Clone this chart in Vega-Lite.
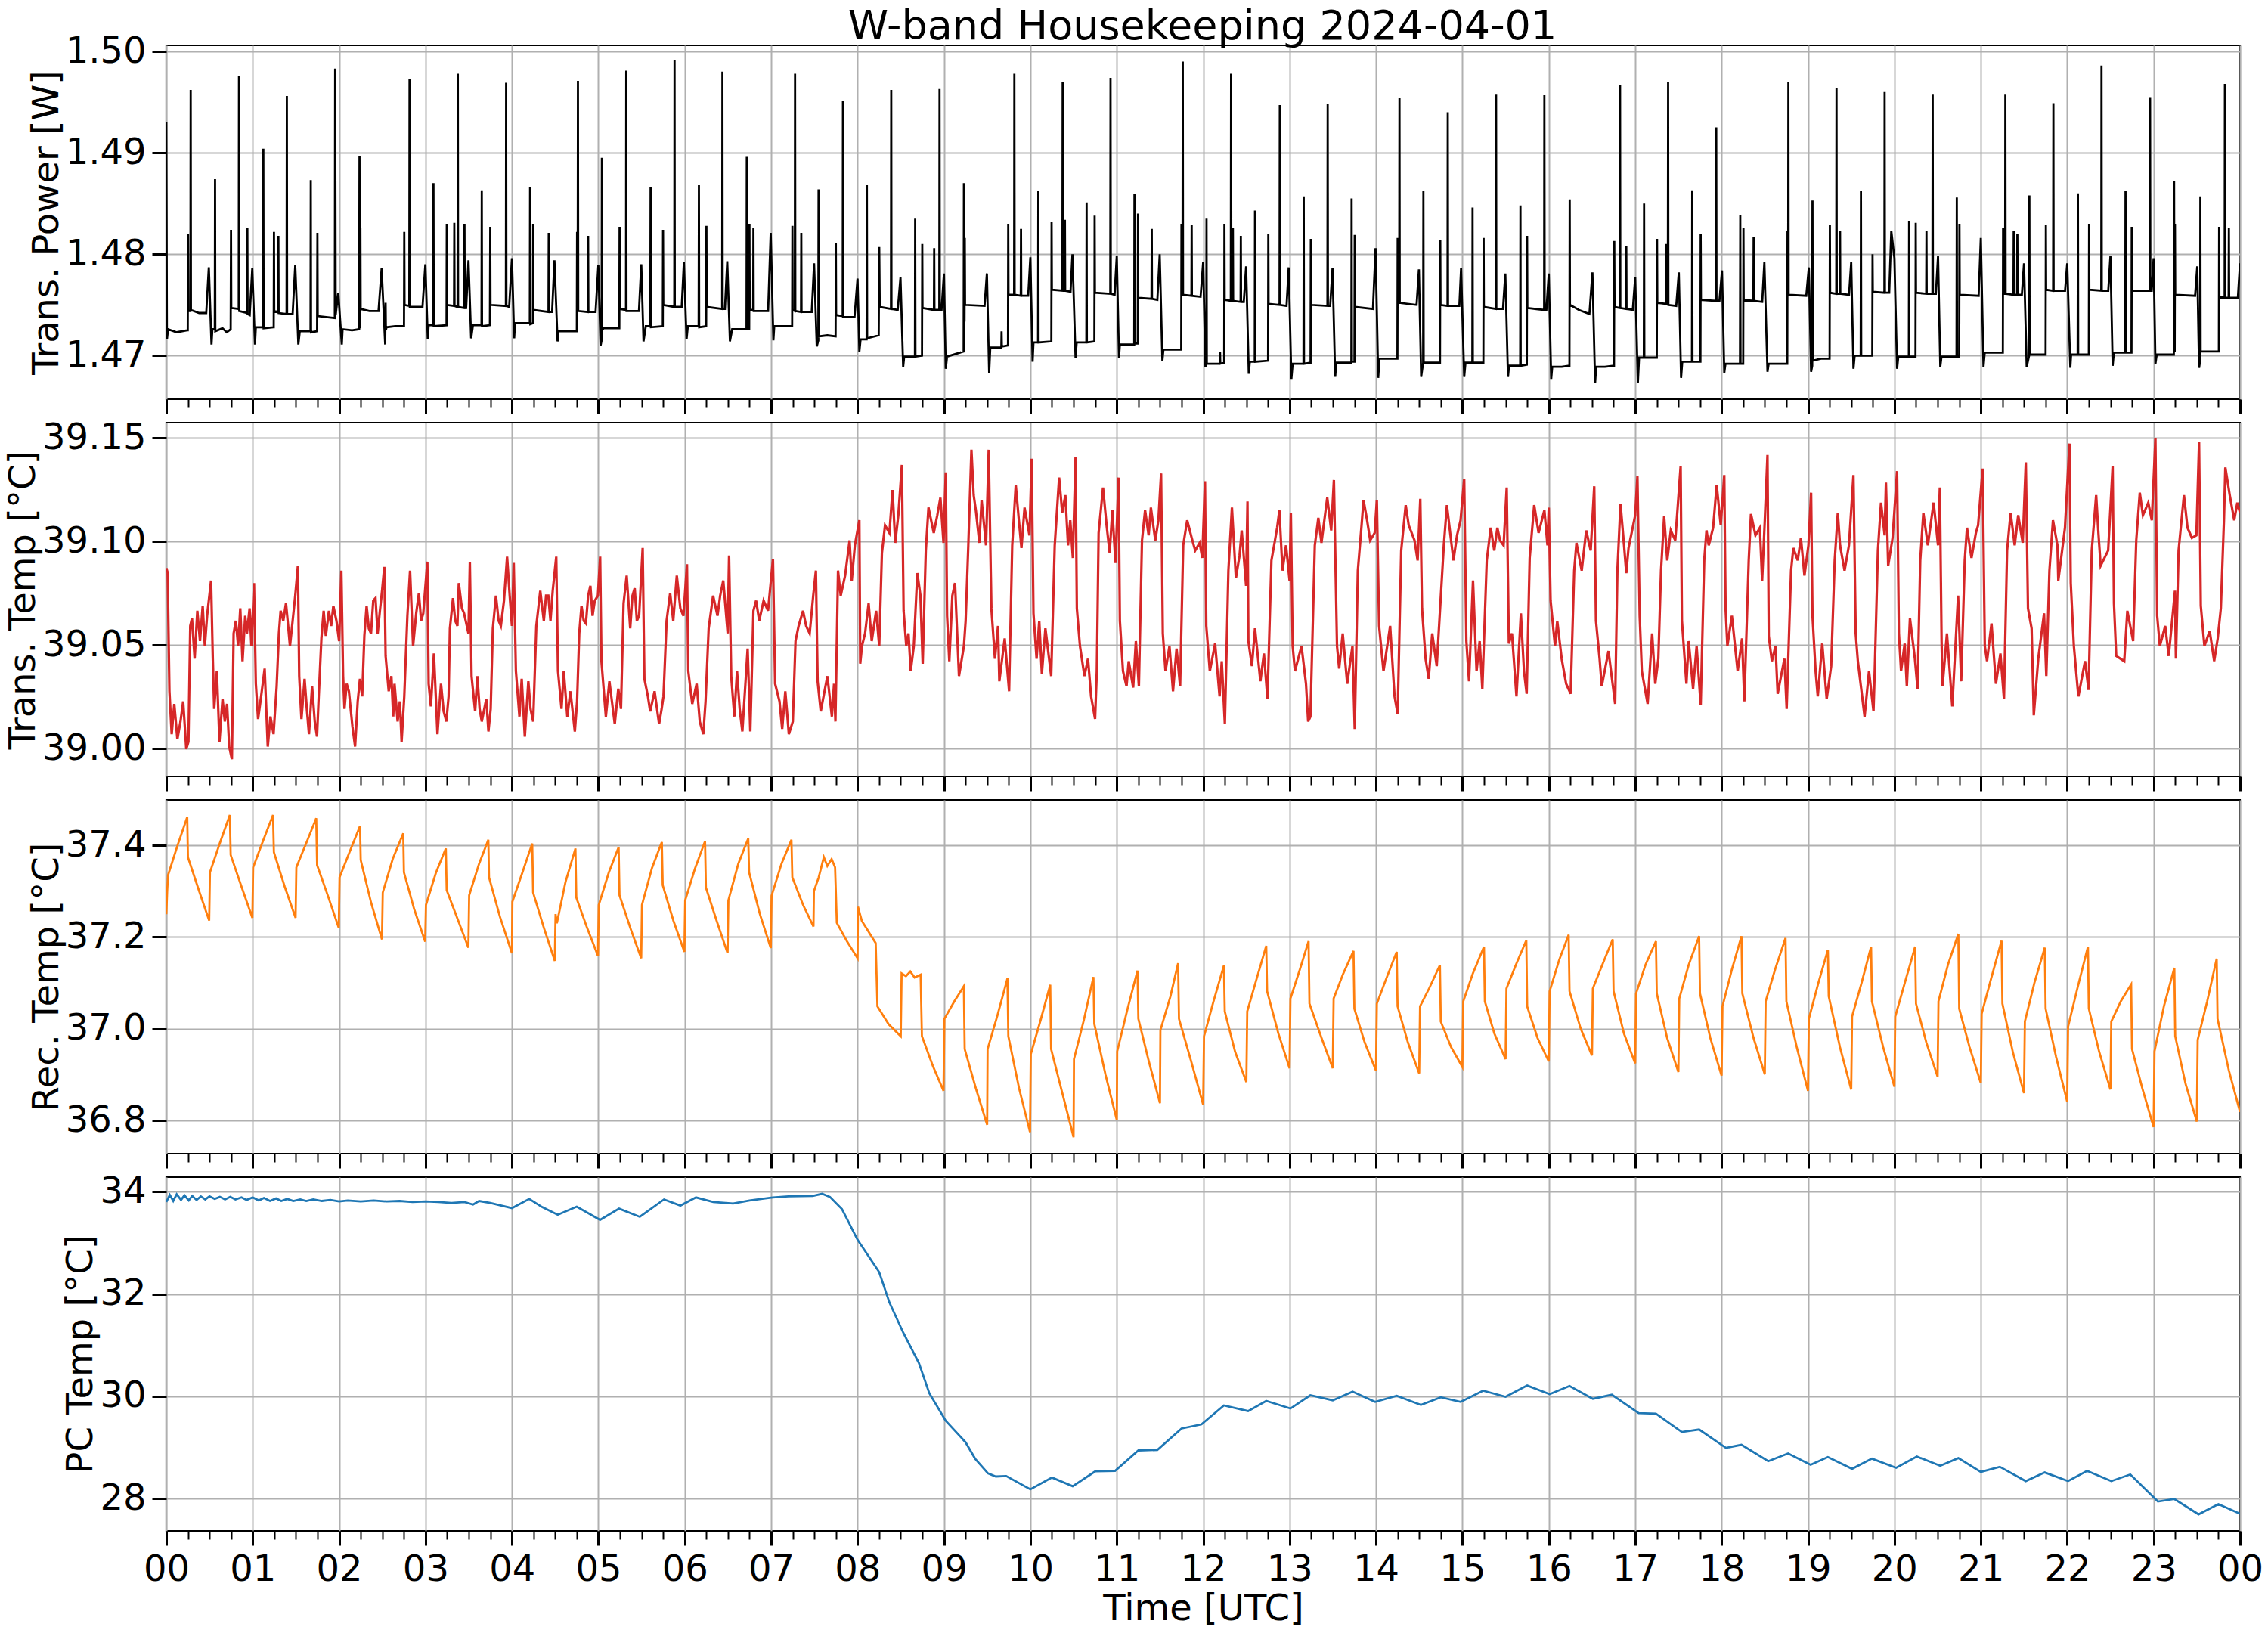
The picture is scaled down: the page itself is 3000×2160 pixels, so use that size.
{
"$schema": "https://vega.github.io/schema/vega-lite/v6.json",
"background": "white",
"padding": {"left": 6, "top": 8, "right": 10, "bottom": 5},
"title": {"text": "W-band Housekeeping 2024-04-01", "fontSize": 54, "font": "DejaVu Sans", "fontWeight": "normal", "color": "black", "anchor": "middle", "offset": -20, "dx": 90},
"config": {
"font": "DejaVu Sans",
"view": {"stroke": "black", "strokeWidth": 2.2},
"axis": {"labelFont": "DejaVu Sans", "labelFontSize": 48, "labelColor": "black", "titleFont": "DejaVu Sans", "titleFontSize": 48, "titleFontWeight": "normal", "titleColor": "black", "domain": false, "tickColor": "black", "tickWidth": 3, "tickSize": 19, "labelPadding": 8, "gridColor": "#b0b0b0", "gridWidth": 2, "gridOpacity": 1}
},
"bounds": "flush",
"spacing": 31,
"datasets": {
"p1": [
{"t":0.000,"v":1.4930},{"t":0.007,"v":1.4716},{"t":0.020,"v":1.4726},{"t":0.120,"v":1.4723},{"t":0.240,"v":1.4725},{"t":0.248,"v":1.4725},{"t":0.251,"v":1.4820},{"t":0.254,"v":1.4744},{"t":0.279,"v":1.4744},{"t":0.282,"v":1.4962},{"t":0.285,"v":1.4745},{"t":0.380,"v":1.4742},{"t":0.462,"v":1.4742},{"t":0.492,"v":1.4787},{"t":0.523,"v":1.4711},
{"t":0.533,"v":1.4726},{"t":0.561,"v":1.4726},{"t":0.564,"v":1.4874},{"t":0.567,"v":1.4724},{"t":0.650,"v":1.4727},{"t":0.700,"v":1.4723},{"t":0.745,"v":1.4726},{"t":0.749,"v":1.4824},{"t":0.752,"v":1.4747},{"t":0.838,"v":1.4746},{"t":0.841,"v":1.4976},{"t":0.844,"v":1.4744},{"t":0.935,"v":1.4742},{"t":0.938,"v":1.4826},{"t":0.941,"v":1.4741},{"t":0.965,"v":1.4740},{"t":0.995,"v":1.4786},{"t":1.026,"v":1.4711},
{"t":1.036,"v":1.4728},{"t":1.120,"v":1.4728},{"t":1.123,"v":1.4904},{"t":1.126,"v":1.4727},{"t":1.238,"v":1.4728},{"t":1.243,"v":1.4728},{"t":1.246,"v":1.4822},{"t":1.249,"v":1.4744},{"t":1.294,"v":1.4743},{"t":1.297,"v":1.4818},{"t":1.300,"v":1.4742},{"t":1.392,"v":1.4741},{"t":1.395,"v":1.4956},{"t":1.398,"v":1.4741},{"t":1.462,"v":1.4741},{"t":1.492,"v":1.4789},{"t":1.528,"v":1.4711},
{"t":1.545,"v":1.4724},{"t":1.669,"v":1.4724},{"t":1.672,"v":1.4873},{"t":1.675,"v":1.4723},{"t":1.745,"v":1.4724},{"t":1.749,"v":1.4821},{"t":1.752,"v":1.4739},{"t":1.850,"v":1.4738},{"t":1.950,"v":1.4737},{"t":1.954,"v":1.4983},{"t":1.960,"v":1.4740},{"t":1.990,"v":1.4762},{"t":2.031,"v":1.4711},
{"t":2.040,"v":1.4726},{"t":2.150,"v":1.4725},{"t":2.232,"v":1.4726},{"t":2.236,"v":1.4897},{"t":2.239,"v":1.4728},{"t":2.243,"v":1.4728},{"t":2.246,"v":1.4826},{"t":2.249,"v":1.4746},{"t":2.350,"v":1.4744},{"t":2.456,"v":1.4744},{"t":2.492,"v":1.4786},{"t":2.533,"v":1.4711},{"t":2.538,"v":1.4752},{"t":2.541,"v":1.4725},
{"t":2.549,"v":1.4728},{"t":2.650,"v":1.4729},{"t":2.751,"v":1.4729},{"t":2.754,"v":1.4822},{"t":2.757,"v":1.4750},{"t":2.812,"v":1.4749},{"t":2.815,"v":1.4973},{"t":2.818,"v":1.4748},{"t":2.965,"v":1.4748},{"t":2.998,"v":1.4790},{"t":3.026,"v":1.4716},
{"t":3.036,"v":1.4730},{"t":3.089,"v":1.4730},{"t":3.092,"v":1.4870},{"t":3.095,"v":1.4729},{"t":3.243,"v":1.4730},{"t":3.246,"v":1.4830},{"t":3.249,"v":1.4750},{"t":3.330,"v":1.4749},{"t":3.333,"v":1.4831},{"t":3.336,"v":1.4749},{"t":3.371,"v":1.4748},{"t":3.374,"v":1.4978},{"t":3.377,"v":1.4748},{"t":3.448,"v":1.4747},{"t":3.451,"v":1.4830},{"t":3.454,"v":1.4747},{"t":3.470,"v":1.4747},{"t":3.497,"v":1.4794},{"t":3.528,"v":1.4717},
{"t":3.549,"v":1.4730},{"t":3.648,"v":1.4730},{"t":3.651,"v":1.4863},{"t":3.654,"v":1.4729},{"t":3.745,"v":1.4730},{"t":3.749,"v":1.4827},{"t":3.752,"v":1.4750},{"t":3.930,"v":1.4749},{"t":3.933,"v":1.4969},{"t":3.936,"v":1.4749},{"t":3.968,"v":1.4748},{"t":4.000,"v":1.4796},{"t":4.026,"v":1.4717},
{"t":4.036,"v":1.4732},{"t":4.207,"v":1.4732},{"t":4.210,"v":1.4866},{"t":4.213,"v":1.4731},{"t":4.243,"v":1.4732},{"t":4.246,"v":1.4830},{"t":4.249,"v":1.4745},{"t":4.423,"v":1.4743},{"t":4.426,"v":1.4821},{"t":4.429,"v":1.4743},{"t":4.465,"v":1.4743},{"t":4.492,"v":1.4794},{"t":4.528,"v":1.4714},
{"t":4.538,"v":1.4724},{"t":4.650,"v":1.4724},{"t":4.751,"v":1.4724},{"t":4.754,"v":1.4822},{"t":4.757,"v":1.4745},{"t":4.761,"v":1.4745},{"t":4.764,"v":1.4971},{"t":4.767,"v":1.4744},{"t":4.879,"v":1.4743},{"t":4.882,"v":1.4818},{"t":4.885,"v":1.4743},{"t":4.968,"v":1.4743},{"t":5.000,"v":1.4789},{"t":5.026,"v":1.4710},{"t":5.038,"v":1.4715},{"t":5.041,"v":1.4895},{"t":5.044,"v":1.4725},
{"t":5.060,"v":1.4727},{"t":5.150,"v":1.4727},{"t":5.243,"v":1.4727},{"t":5.246,"v":1.4827},{"t":5.249,"v":1.4746},{"t":5.320,"v":1.4745},{"t":5.323,"v":1.4981},{"t":5.326,"v":1.4744},{"t":5.470,"v":1.4744},{"t":5.497,"v":1.4790},{"t":5.523,"v":1.4714},
{"t":5.549,"v":1.4729},{"t":5.602,"v":1.4729},{"t":5.605,"v":1.4866},{"t":5.608,"v":1.4728},{"t":5.746,"v":1.4729},{"t":5.749,"v":1.4824},{"t":5.752,"v":1.4750},{"t":5.879,"v":1.4748},{"t":5.882,"v":1.4991},{"t":5.885,"v":1.4748},{"t":5.965,"v":1.4748},{"t":5.990,"v":1.4792},{"t":6.021,"v":1.4716},
{"t":6.036,"v":1.4729},{"t":6.161,"v":1.4729},{"t":6.164,"v":1.4868},{"t":6.167,"v":1.4728},{"t":6.248,"v":1.4729},{"t":6.251,"v":1.4828},{"t":6.254,"v":1.4748},{"t":6.433,"v":1.4746},{"t":6.436,"v":1.4980},{"t":6.439,"v":1.4746},{"t":6.465,"v":1.4746},{"t":6.492,"v":1.4793},{"t":6.523,"v":1.4714},
{"t":6.549,"v":1.4726},{"t":6.715,"v":1.4726},{"t":6.718,"v":1.4896},{"t":6.721,"v":1.4726},{"t":6.746,"v":1.4726},{"t":6.749,"v":1.4830},{"t":6.752,"v":1.4745},{"t":6.792,"v":1.4745},{"t":6.795,"v":1.4826},{"t":6.798,"v":1.4744},{"t":6.965,"v":1.4744},{"t":6.995,"v":1.4821},{"t":7.026,"v":1.4715},
{"t":7.036,"v":1.4729},{"t":7.150,"v":1.4729},{"t":7.243,"v":1.4729},{"t":7.246,"v":1.4828},{"t":7.249,"v":1.4745},{"t":7.274,"v":1.4744},{"t":7.277,"v":1.4978},{"t":7.280,"v":1.4744},{"t":7.346,"v":1.4743},{"t":7.349,"v":1.4821},{"t":7.352,"v":1.4743},{"t":7.470,"v":1.4743},{"t":7.497,"v":1.4791},{"t":7.528,"v":1.4709},
{"t":7.546,"v":1.4715},{"t":7.549,"v":1.4864},{"t":7.552,"v":1.4719},{"t":7.650,"v":1.4720},{"t":7.746,"v":1.4719},{"t":7.749,"v":1.4811},{"t":7.752,"v":1.4740},{"t":7.828,"v":1.4739},{"t":7.831,"v":1.4951},{"t":7.834,"v":1.4738},{"t":7.965,"v":1.4738},{"t":8.000,"v":1.4776},{"t":8.021,"v":1.4704},
{"t":8.035,"v":1.4716},{"t":8.105,"v":1.4716},{"t":8.108,"v":1.4868},{"t":8.111,"v":1.4717},{"t":8.245,"v":1.4720},{"t":8.251,"v":1.4807},{"t":8.257,"v":1.4748},{"t":8.387,"v":1.4746},{"t":8.390,"v":1.4962},{"t":8.393,"v":1.4746},{"t":8.465,"v":1.4745},{"t":8.497,"v":1.4777},{"t":8.528,"v":1.4689},
{"t":8.540,"v":1.4699},{"t":8.664,"v":1.4699},{"t":8.667,"v":1.4835},{"t":8.670,"v":1.4699},{"t":8.746,"v":1.4700},{"t":8.749,"v":1.4810},{"t":8.752,"v":1.4747},{"t":8.884,"v":1.4745},{"t":8.887,"v":1.4806},{"t":8.890,"v":1.4745},{"t":8.946,"v":1.4745},{"t":8.949,"v":1.4963},{"t":8.952,"v":1.4745},{"t":8.972,"v":1.4745},{"t":9.000,"v":1.4781},{"t":9.021,"v":1.4687},
{"t":9.036,"v":1.4699},{"t":9.150,"v":1.4702},{"t":9.228,"v":1.4704},{"t":9.231,"v":1.4870},{"t":9.234,"v":1.4730},{"t":9.238,"v":1.4735},{"t":9.241,"v":1.4816},{"t":9.244,"v":1.4750},{"t":9.470,"v":1.4749},{"t":9.497,"v":1.4781},{"t":9.523,"v":1.4683},
{"t":9.536,"v":1.4708},{"t":9.664,"v":1.4708},{"t":9.667,"v":1.4724},{"t":9.670,"v":1.4709},{"t":9.741,"v":1.4710},{"t":9.744,"v":1.4830},{"t":9.747,"v":1.4760},{"t":9.812,"v":1.4760},{"t":9.815,"v":1.4978},{"t":9.818,"v":1.4760},{"t":9.889,"v":1.4759},{"t":9.892,"v":1.4825},{"t":9.895,"v":1.4759},{"t":9.975,"v":1.4759},{"t":10.000,"v":1.4797},{"t":10.026,"v":1.4694},
{"t":10.036,"v":1.4713},{"t":10.089,"v":1.4713},{"t":10.092,"v":1.4862},{"t":10.095,"v":1.4713},{"t":10.243,"v":1.4714},{"t":10.246,"v":1.4832},{"t":10.249,"v":1.4765},{"t":10.371,"v":1.4764},{"t":10.374,"v":1.4970},{"t":10.377,"v":1.4764},{"t":10.397,"v":1.4764},{"t":10.400,"v":1.4834},{"t":10.403,"v":1.4764},{"t":10.465,"v":1.4763},{"t":10.487,"v":1.4800},{"t":10.523,"v":1.4698},
{"t":10.536,"v":1.4713},{"t":10.648,"v":1.4713},{"t":10.651,"v":1.4851},{"t":10.654,"v":1.4713},{"t":10.741,"v":1.4714},{"t":10.744,"v":1.4838},{"t":10.747,"v":1.4762},{"t":10.925,"v":1.4761},{"t":10.928,"v":1.4974},{"t":10.931,"v":1.4761},{"t":10.975,"v":1.4760},{"t":11.000,"v":1.4798},{"t":11.026,"v":1.4698},
{"t":11.036,"v":1.4711},{"t":11.202,"v":1.4711},{"t":11.205,"v":1.4859},{"t":11.208,"v":1.4712},{"t":11.243,"v":1.4712},{"t":11.246,"v":1.4840},{"t":11.249,"v":1.4757},{"t":11.402,"v":1.4756},{"t":11.405,"v":1.4825},{"t":11.408,"v":1.4756},{"t":11.470,"v":1.4755},{"t":11.497,"v":1.4800},{"t":11.528,"v":1.4695},
{"t":11.540,"v":1.4706},{"t":11.650,"v":1.4706},{"t":11.746,"v":1.4706},{"t":11.749,"v":1.4830},{"t":11.752,"v":1.4760},{"t":11.761,"v":1.4760},{"t":11.764,"v":1.4990},{"t":11.767,"v":1.4760},{"t":11.864,"v":1.4759},{"t":11.867,"v":1.4829},{"t":11.870,"v":1.4759},{"t":11.970,"v":1.4758},{"t":12.000,"v":1.4792},{"t":12.026,"v":1.4689},
{"t":12.036,"v":1.4692},{"t":12.039,"v":1.4835},{"t":12.042,"v":1.4692},{"t":12.192,"v":1.4692},{"t":12.195,"v":1.4704},{"t":12.198,"v":1.4692},{"t":12.243,"v":1.4693},{"t":12.246,"v":1.4830},{"t":12.249,"v":1.4755},{"t":12.320,"v":1.4754},{"t":12.323,"v":1.4978},{"t":12.326,"v":1.4754},{"t":12.341,"v":1.4754},{"t":12.344,"v":1.4826},{"t":12.347,"v":1.4754},{"t":12.433,"v":1.4753},{"t":12.436,"v":1.4818},{"t":12.439,"v":1.4753},{"t":12.470,"v":1.4753},{"t":12.497,"v":1.4788},{"t":12.528,"v":1.4682},
{"t":12.540,"v":1.4694},{"t":12.597,"v":1.4694},{"t":12.600,"v":1.4843},{"t":12.603,"v":1.4694},{"t":12.751,"v":1.4695},{"t":12.754,"v":1.4820},{"t":12.757,"v":1.4751},{"t":12.884,"v":1.4750},{"t":12.887,"v":1.4947},{"t":12.890,"v":1.4750},{"t":12.965,"v":1.4749},{"t":12.990,"v":1.4787},{"t":13.021,"v":1.4677},
{"t":13.036,"v":1.4692},{"t":13.161,"v":1.4692},{"t":13.164,"v":1.4857},{"t":13.167,"v":1.4692},{"t":13.243,"v":1.4693},{"t":13.246,"v":1.4815},{"t":13.249,"v":1.4750},{"t":13.438,"v":1.4749},{"t":13.441,"v":1.4948},{"t":13.444,"v":1.4749},{"t":13.470,"v":1.4749},{"t":13.497,"v":1.4786},{"t":13.528,"v":1.4679},
{"t":13.540,"v":1.4693},{"t":13.715,"v":1.4693},{"t":13.718,"v":1.4855},{"t":13.721,"v":1.4694},{"t":13.751,"v":1.4694},{"t":13.754,"v":1.4819},{"t":13.757,"v":1.4748},{"t":13.965,"v":1.4746},{"t":13.995,"v":1.4806},{"t":14.026,"v":1.4678},
{"t":14.040,"v":1.4697},{"t":14.150,"v":1.4697},{"t":14.248,"v":1.4697},{"t":14.251,"v":1.4816},{"t":14.254,"v":1.4752},{"t":14.269,"v":1.4752},{"t":14.272,"v":1.4954},{"t":14.275,"v":1.4752},{"t":14.470,"v":1.4750},{"t":14.497,"v":1.4785},{"t":14.523,"v":1.4679},
{"t":14.546,"v":1.4693},{"t":14.549,"v":1.4862},{"t":14.552,"v":1.4693},{"t":14.650,"v":1.4693},{"t":14.741,"v":1.4693},{"t":14.744,"v":1.4814},{"t":14.747,"v":1.4750},{"t":14.828,"v":1.4749},{"t":14.831,"v":1.4940},{"t":14.834,"v":1.4749},{"t":14.965,"v":1.4749},{"t":14.985,"v":1.4786},{"t":15.021,"v":1.4679},
{"t":15.036,"v":1.4693},{"t":15.115,"v":1.4693},{"t":15.118,"v":1.4846},{"t":15.121,"v":1.4693},{"t":15.243,"v":1.4693},{"t":15.246,"v":1.4816},{"t":15.249,"v":1.4748},{"t":15.387,"v":1.4746},{"t":15.390,"v":1.4958},{"t":15.393,"v":1.4746},{"t":15.470,"v":1.4746},{"t":15.497,"v":1.4781},{"t":15.528,"v":1.4679},
{"t":15.540,"v":1.4690},{"t":15.669,"v":1.4690},{"t":15.672,"v":1.4848},{"t":15.675,"v":1.4690},{"t":15.746,"v":1.4691},{"t":15.749,"v":1.4818},{"t":15.752,"v":1.4747},{"t":15.946,"v":1.4745},{"t":15.949,"v":1.4957},{"t":15.952,"v":1.4745},{"t":15.972,"v":1.4745},{"t":16.000,"v":1.4781},{"t":16.028,"v":1.4677},
{"t":16.040,"v":1.4689},{"t":16.150,"v":1.4689},{"t":16.239,"v":1.4690},{"t":16.242,"v":1.4854},{"t":16.245,"v":1.4750},{"t":16.350,"v":1.4745},{"t":16.470,"v":1.4741},{"t":16.505,"v":1.4782},{"t":16.536,"v":1.4673},
{"t":16.548,"v":1.4689},{"t":16.650,"v":1.4689},{"t":16.755,"v":1.4690},{"t":16.758,"v":1.4813},{"t":16.761,"v":1.4748},{"t":16.822,"v":1.4747},{"t":16.825,"v":1.4967},{"t":16.828,"v":1.4747},{"t":16.894,"v":1.4746},{"t":16.897,"v":1.4808},{"t":16.900,"v":1.4746},{"t":16.972,"v":1.4745},{"t":17.000,"v":1.4777},{"t":17.031,"v":1.4673},
{"t":17.045,"v":1.4698},{"t":17.100,"v":1.4698},{"t":17.103,"v":1.4850},{"t":17.106,"v":1.4698},{"t":17.250,"v":1.4698},{"t":17.253,"v":1.4815},{"t":17.256,"v":1.4752},{"t":17.358,"v":1.4751},{"t":17.361,"v":1.4810},{"t":17.364,"v":1.4751},{"t":17.378,"v":1.4751},{"t":17.381,"v":1.4970},{"t":17.384,"v":1.4750},{"t":17.475,"v":1.4749},{"t":17.505,"v":1.4782},{"t":17.531,"v":1.4678},
{"t":17.545,"v":1.4694},{"t":17.657,"v":1.4694},{"t":17.660,"v":1.4863},{"t":17.663,"v":1.4694},{"t":17.755,"v":1.4694},{"t":17.758,"v":1.4820},{"t":17.761,"v":1.4755},{"t":17.935,"v":1.4754},{"t":17.938,"v":1.4925},{"t":17.941,"v":1.4754},{"t":17.975,"v":1.4754},{"t":18.005,"v":1.4784},{"t":18.031,"v":1.4683},
{"t":18.045,"v":1.4692},{"t":18.213,"v":1.4692},{"t":18.216,"v":1.4839},{"t":18.219,"v":1.4692},{"t":18.250,"v":1.4692},{"t":18.253,"v":1.4826},{"t":18.256,"v":1.4755},{"t":18.368,"v":1.4754},{"t":18.371,"v":1.4817},{"t":18.374,"v":1.4754},{"t":18.470,"v":1.4753},{"t":18.495,"v":1.4792},{"t":18.531,"v":1.4684},
{"t":18.545,"v":1.4692},{"t":18.650,"v":1.4692},{"t":18.760,"v":1.4692},{"t":18.763,"v":1.4823},{"t":18.766,"v":1.4760},{"t":18.770,"v":1.4760},{"t":18.773,"v":1.4970},{"t":18.776,"v":1.4760},{"t":18.980,"v":1.4759},{"t":19.010,"v":1.4787},{"t":19.036,"v":1.4684},
{"t":19.049,"v":1.4690},{"t":19.052,"v":1.4853},{"t":19.055,"v":1.4695},{"t":19.150,"v":1.4697},{"t":19.250,"v":1.4697},{"t":19.253,"v":1.4829},{"t":19.256,"v":1.4762},{"t":19.327,"v":1.4761},{"t":19.330,"v":1.4964},{"t":19.333,"v":1.4761},{"t":19.368,"v":1.4761},{"t":19.371,"v":1.4823},{"t":19.374,"v":1.4761},{"t":19.475,"v":1.4760},{"t":19.500,"v":1.4792},{"t":19.526,"v":1.4687},
{"t":19.540,"v":1.4700},{"t":19.610,"v":1.4700},{"t":19.613,"v":1.4862},{"t":19.616,"v":1.4700},{"t":19.744,"v":1.4700},{"t":19.747,"v":1.4800},{"t":19.750,"v":1.4763},{"t":19.884,"v":1.4762},{"t":19.887,"v":1.4960},{"t":19.890,"v":1.4762},{"t":19.940,"v":1.4762},{"t":19.964,"v":1.4823},{"t":20.000,"v":1.4796},{"t":20.031,"v":1.4687},
{"t":20.045,"v":1.4699},{"t":20.167,"v":1.4699},{"t":20.170,"v":1.4833},{"t":20.173,"v":1.4699},{"t":20.244,"v":1.4699},{"t":20.247,"v":1.4831},{"t":20.250,"v":1.4762},{"t":20.368,"v":1.4761},{"t":20.371,"v":1.4823},{"t":20.374,"v":1.4761},{"t":20.440,"v":1.4761},{"t":20.443,"v":1.4958},{"t":20.446,"v":1.4761},{"t":20.480,"v":1.4761},{"t":20.505,"v":1.4798},{"t":20.531,"v":1.4689},
{"t":20.545,"v":1.4699},{"t":20.650,"v":1.4699},{"t":20.719,"v":1.4699},{"t":20.722,"v":1.4856},{"t":20.725,"v":1.4699},{"t":20.750,"v":1.4699},{"t":20.753,"v":1.4830},{"t":20.756,"v":1.4760},{"t":20.975,"v":1.4759},{"t":21.000,"v":1.4816},{"t":21.031,"v":1.4689},
{"t":21.045,"v":1.4703},{"t":21.150,"v":1.4703},{"t":21.255,"v":1.4703},{"t":21.258,"v":1.4826},{"t":21.261,"v":1.4761},{"t":21.281,"v":1.4761},{"t":21.284,"v":1.4958},{"t":21.287,"v":1.4761},{"t":21.378,"v":1.4760},{"t":21.381,"v":1.4823},{"t":21.384,"v":1.4760},{"t":21.420,"v":1.4760},{"t":21.423,"v":1.4820},{"t":21.426,"v":1.4760},{"t":21.475,"v":1.4760},{"t":21.500,"v":1.4791},{"t":21.531,"v":1.4689},
{"t":21.559,"v":1.4700},{"t":21.562,"v":1.4858},{"t":21.565,"v":1.4701},{"t":21.650,"v":1.4701},{"t":21.750,"v":1.4701},{"t":21.753,"v":1.4829},{"t":21.756,"v":1.4765},{"t":21.837,"v":1.4764},{"t":21.840,"v":1.4949},{"t":21.843,"v":1.4764},{"t":21.975,"v":1.4764},{"t":22.000,"v":1.4791},{"t":22.036,"v":1.4688},
{"t":22.045,"v":1.4701},{"t":22.121,"v":1.4701},{"t":22.124,"v":1.4860},{"t":22.127,"v":1.4701},{"t":22.250,"v":1.4701},{"t":22.253,"v":1.4830},{"t":22.256,"v":1.4765},{"t":22.394,"v":1.4764},{"t":22.397,"v":1.4986},{"t":22.400,"v":1.4764},{"t":22.475,"v":1.4764},{"t":22.500,"v":1.4798},{"t":22.526,"v":1.4690},
{"t":22.540,"v":1.4703},{"t":22.672,"v":1.4703},{"t":22.675,"v":1.4862},{"t":22.678,"v":1.4703},{"t":22.744,"v":1.4703},{"t":22.747,"v":1.4827},{"t":22.750,"v":1.4764},{"t":22.956,"v":1.4764},{"t":22.959,"v":1.4955},{"t":22.962,"v":1.4764},{"t":22.978,"v":1.4764},{"t":23.000,"v":1.4796},{"t":23.021,"v":1.4692},
{"t":23.036,"v":1.4701},{"t":23.150,"v":1.4701},{"t":23.234,"v":1.4701},{"t":23.237,"v":1.4872},{"t":23.240,"v":1.4705},{"t":23.244,"v":1.4705},{"t":23.247,"v":1.4830},{"t":23.250,"v":1.4760},{"t":23.480,"v":1.4759},{"t":23.505,"v":1.4788},{"t":23.526,"v":1.4688},
{"t":23.538,"v":1.4695},{"t":23.541,"v":1.4857},{"t":23.544,"v":1.4704},{"t":23.650,"v":1.4704},{"t":23.755,"v":1.4704},{"t":23.758,"v":1.4827},{"t":23.761,"v":1.4758},{"t":23.822,"v":1.4757},{"t":23.825,"v":1.4968},{"t":23.828,"v":1.4757},{"t":23.868,"v":1.4757},{"t":23.871,"v":1.4826},{"t":23.874,"v":1.4757},{"t":23.975,"v":1.4757},{"t":24.000,"v":1.4791}
],
"p2": [
{"t":0.000,"v":39.0871},{"t":0.015,"v":39.0850},{"t":0.036,"v":39.0277},{"t":0.062,"v":39.0070},{"t":0.092,"v":39.0216},{"t":0.128,"v":39.0046},{"t":0.164,"v":39.0131},{"t":0.195,"v":39.0228},{"t":0.231,"v":38.9998},{"t":0.256,"v":39.0034},
{"t":0.277,"v":39.0592},{"t":0.297,"v":39.0629},{"t":0.328,"v":39.0434},{"t":0.359,"v":39.0665},{"t":0.390,"v":39.0519},{"t":0.421,"v":39.0689},{"t":0.446,"v":39.0495},{"t":0.472,"v":39.0641},{"t":0.518,"v":39.0811},
{"t":0.538,"v":39.0434},{"t":0.554,"v":39.0192},{"t":0.585,"v":39.0374},{"t":0.615,"v":39.0034},{"t":0.651,"v":39.0240},{"t":0.677,"v":39.0131},{"t":0.703,"v":39.0216},{"t":0.728,"v":39.0010},{"t":0.759,"v":38.9949},
{"t":0.779,"v":39.0556},{"t":0.805,"v":39.0617},{"t":0.831,"v":39.0495},{"t":0.856,"v":39.0677},{"t":0.882,"v":39.0422},{"t":0.913,"v":39.0641},{"t":0.933,"v":39.0556},{"t":0.964,"v":39.0677},{"t":0.985,"v":39.0495},{"t":1.015,"v":39.0799},
{"t":1.036,"v":39.0313},{"t":1.062,"v":39.0143},{"t":1.097,"v":39.0252},{"t":1.138,"v":39.0386},{"t":1.174,"v":39.0010},{"t":1.205,"v":39.0155},{"t":1.241,"v":39.0070},{"t":1.277,"v":39.0301},
{"t":1.303,"v":39.0556},{"t":1.323,"v":39.0665},{"t":1.354,"v":39.0617},{"t":1.385,"v":39.0701},{"t":1.410,"v":39.0592},{"t":1.431,"v":39.0495},{"t":1.462,"v":39.0617},{"t":1.492,"v":39.0738},{"t":1.523,"v":39.0883},
{"t":1.538,"v":39.0350},{"t":1.564,"v":39.0143},{"t":1.600,"v":39.0337},{"t":1.626,"v":39.0192},{"t":1.651,"v":39.0070},{"t":1.687,"v":39.0301},{"t":1.718,"v":39.0131},{"t":1.744,"v":39.0058},{"t":1.764,"v":39.0252},
{"t":1.795,"v":39.0532},{"t":1.821,"v":39.0665},{"t":1.846,"v":39.0544},{"t":1.882,"v":39.0665},{"t":1.908,"v":39.0592},{"t":1.933,"v":39.0689},{"t":1.969,"v":39.0617},{"t":2.000,"v":39.0519},{"t":2.026,"v":39.0859},
{"t":2.046,"v":39.0350},{"t":2.062,"v":39.0192},{"t":2.087,"v":39.0313},{"t":2.113,"v":39.0277},{"t":2.154,"v":39.0107},{"t":2.185,"v":39.0010},{"t":2.215,"v":39.0228},{"t":2.241,"v":39.0337},{"t":2.267,"v":39.0252},
{"t":2.292,"v":39.0544},{"t":2.318,"v":39.0689},{"t":2.344,"v":39.0580},{"t":2.369,"v":39.0556},{"t":2.395,"v":39.0714},{"t":2.421,"v":39.0726},{"t":2.446,"v":39.0556},{"t":2.472,"v":39.0665},{"t":2.497,"v":39.0762},{"t":2.523,"v":39.0877},
{"t":2.538,"v":39.0447},{"t":2.574,"v":39.0277},{"t":2.605,"v":39.0350},{"t":2.626,"v":39.0155},{"t":2.641,"v":39.0313},{"t":2.677,"v":39.0131},{"t":2.703,"v":39.0228},{"t":2.723,"v":39.0034},{"t":2.754,"v":39.0252},
{"t":2.790,"v":39.0641},{"t":2.821,"v":39.0859},{"t":2.856,"v":39.0495},{"t":2.892,"v":39.0653},{"t":2.923,"v":39.0750},{"t":2.949,"v":39.0617},{"t":2.974,"v":39.0653},{"t":3.021,"v":39.0902},
{"t":3.036,"v":39.0313},{"t":3.062,"v":39.0204},{"t":3.097,"v":39.0459},{"t":3.138,"v":39.0070},{"t":3.179,"v":39.0313},{"t":3.210,"v":39.0180},{"t":3.241,"v":39.0131},{"t":3.267,"v":39.0252},
{"t":3.282,"v":39.0580},{"t":3.318,"v":39.0726},{"t":3.344,"v":39.0617},{"t":3.369,"v":39.0592},{"t":3.385,"v":39.0799},{"t":3.421,"v":39.0677},{"t":3.446,"v":39.0653},{"t":3.497,"v":39.0556},{"t":3.513,"v":39.0902},
{"t":3.533,"v":39.0350},{"t":3.574,"v":39.0180},{"t":3.600,"v":39.0350},{"t":3.626,"v":39.0192},{"t":3.651,"v":39.0131},{"t":3.703,"v":39.0240},{"t":3.728,"v":39.0083},{"t":3.754,"v":39.0192},
{"t":3.779,"v":39.0580},{"t":3.815,"v":39.0738},{"t":3.846,"v":39.0617},{"t":3.872,"v":39.0592},{"t":3.908,"v":39.0714},{"t":3.944,"v":39.0926},{"t":3.974,"v":39.0738},{"t":4.000,"v":39.0592},{"t":4.021,"v":39.0896},
{"t":4.046,"v":39.0374},{"t":4.087,"v":39.0155},{"t":4.113,"v":39.0337},{"t":4.149,"v":39.0058},{"t":4.190,"v":39.0325},{"t":4.215,"v":39.0192},{"t":4.246,"v":39.0131},
{"t":4.282,"v":39.0592},{"t":4.328,"v":39.0762},{"t":4.369,"v":39.0617},{"t":4.395,"v":39.0738},{"t":4.421,"v":39.0738},{"t":4.446,"v":39.0617},{"t":4.472,"v":39.0762},{"t":4.513,"v":39.0926},
{"t":4.533,"v":39.0374},{"t":4.574,"v":39.0192},{"t":4.600,"v":39.0374},{"t":4.641,"v":39.0155},{"t":4.677,"v":39.0277},{"t":4.728,"v":39.0083},{"t":4.754,"v":39.0228},
{"t":4.779,"v":39.0556},{"t":4.805,"v":39.0689},{"t":4.831,"v":39.0617},{"t":4.856,"v":39.0604},{"t":4.882,"v":39.0738},{"t":4.908,"v":39.0786},{"t":4.933,"v":39.0641},{"t":4.959,"v":39.0714},{"t":4.995,"v":39.0738},{"t":5.021,"v":39.0926},
{"t":5.036,"v":39.0422},{"t":5.087,"v":39.0155},{"t":5.128,"v":39.0325},{"t":5.190,"v":39.0119},{"t":5.231,"v":39.0289},{"t":5.262,"v":39.0192},
{"t":5.292,"v":39.0701},{"t":5.328,"v":39.0835},{"t":5.369,"v":39.0580},{"t":5.395,"v":39.0738},{"t":5.421,"v":39.0774},{"t":5.446,"v":39.0617},{"t":5.472,"v":39.0641},{"t":5.513,"v":39.0968},
{"t":5.533,"v":39.0337},{"t":5.574,"v":39.0252},{"t":5.600,"v":39.0180},{"t":5.651,"v":39.0277},{"t":5.703,"v":39.0119},{"t":5.733,"v":39.0192},{"t":5.754,"v":39.0252},
{"t":5.790,"v":39.0617},{"t":5.831,"v":39.0750},{"t":5.867,"v":39.0617},{"t":5.908,"v":39.0835},{"t":5.949,"v":39.0677},{"t":5.985,"v":39.0641},{"t":6.026,"v":39.0890},
{"t":6.041,"v":39.0374},{"t":6.087,"v":39.0216},{"t":6.138,"v":39.0313},{"t":6.174,"v":39.0131},{"t":6.215,"v":39.0070},{"t":6.241,"v":39.0228},
{"t":6.277,"v":39.0580},{"t":6.328,"v":39.0738},{"t":6.379,"v":39.0641},{"t":6.410,"v":39.0738},{"t":6.446,"v":39.0811},{"t":6.497,"v":39.0556},{"t":6.513,"v":39.0932},
{"t":6.538,"v":39.0350},{"t":6.574,"v":39.0155},{"t":6.605,"v":39.0374},{"t":6.636,"v":39.0192},{"t":6.667,"v":39.0083},{"t":6.728,"v":39.0483},{"t":6.759,"v":39.0083},
{"t":6.795,"v":39.0665},{"t":6.826,"v":39.0714},{"t":6.862,"v":39.0617},{"t":6.913,"v":39.0714},{"t":6.964,"v":39.0665},{"t":7.021,"v":39.0914},
{"t":7.046,"v":39.0313},{"t":7.097,"v":39.0228},{"t":7.128,"v":39.0095},{"t":7.164,"v":39.0277},{"t":7.205,"v":39.0070},{"t":7.251,"v":39.0131},
{"t":7.282,"v":39.0519},{"t":7.318,"v":39.0592},{"t":7.369,"v":39.0665},{"t":7.405,"v":39.0592},{"t":7.446,"v":39.0556},{"t":7.487,"v":39.0738},{"t":7.518,"v":39.0859},
{"t":7.538,"v":39.0325},{"t":7.574,"v":39.0180},{"t":7.651,"v":39.0350},{"t":7.703,"v":39.0155},{"t":7.728,"v":39.0313},{"t":7.744,"v":39.0131},
{"t":7.774,"v":39.0859},{"t":7.805,"v":39.0738},{"t":7.856,"v":39.0835},{"t":7.908,"v":39.1005},{"t":7.933,"v":39.0811},{"t":7.969,"v":39.0981},{"t":8.021,"v":39.1102},
{"t":8.031,"v":39.0410},{"t":8.051,"v":39.0495},{"t":8.087,"v":39.0556},{"t":8.128,"v":39.0701},{"t":8.164,"v":39.0519},{"t":8.215,"v":39.0665},{"t":8.251,"v":39.0495},
{"t":8.282,"v":39.0944},{"t":8.318,"v":39.1078},{"t":8.369,"v":39.1041},{"t":8.405,"v":39.1248},{"t":8.436,"v":39.0993},{"t":8.472,"v":39.1126},{"t":8.513,"v":39.1369},
{"t":8.533,"v":39.0665},{"t":8.564,"v":39.0495},{"t":8.590,"v":39.0556},{"t":8.615,"v":39.0374},{"t":8.651,"v":39.0495},{"t":8.692,"v":39.0847},{"t":8.728,"v":39.0738},{"t":8.754,"v":39.0410},
{"t":8.790,"v":39.0956},{"t":8.821,"v":39.1163},{"t":8.882,"v":39.1041},{"t":8.923,"v":39.1126},{"t":8.959,"v":39.1211},{"t":8.995,"v":39.0993},{"t":9.021,"v":39.1333},
{"t":9.036,"v":39.0641},{"t":9.062,"v":39.0422},{"t":9.097,"v":39.0738},{"t":9.128,"v":39.0799},{"t":9.174,"v":39.0350},{"t":9.231,"v":39.0495},{"t":9.251,"v":39.0617},
{"t":9.282,"v":39.0981},{"t":9.318,"v":39.1442},{"t":9.344,"v":39.1223},{"t":9.369,"v":39.1150},{"t":9.410,"v":39.0993},{"t":9.436,"v":39.1199},{"t":9.487,"v":39.0981},{"t":9.518,"v":39.1442},
{"t":9.549,"v":39.0677},{"t":9.590,"v":39.0434},{"t":9.626,"v":39.0592},{"t":9.641,"v":39.0325},{"t":9.703,"v":39.0532},{"t":9.754,"v":39.0277},
{"t":9.790,"v":39.0981},{"t":9.831,"v":39.1272},{"t":9.867,"v":39.1102},{"t":9.897,"v":39.0968},{"t":9.933,"v":39.1163},{"t":9.990,"v":39.1029},{"t":10.015,"v":39.1399},
{"t":10.036,"v":39.0653},{"t":10.072,"v":39.0434},{"t":10.103,"v":39.0617},{"t":10.133,"v":39.0362},{"t":10.174,"v":39.0580},{"t":10.241,"v":39.0350},
{"t":10.282,"v":39.0981},{"t":10.333,"v":39.1308},{"t":10.369,"v":39.1138},{"t":10.405,"v":39.1223},{"t":10.436,"v":39.0981},{"t":10.462,"v":39.1102},{"t":10.492,"v":39.0920},{"t":10.523,"v":39.1405},
{"t":10.538,"v":39.0677},{"t":10.574,"v":39.0495},{"t":10.626,"v":39.0350},{"t":10.667,"v":39.0434},{"t":10.703,"v":39.0252},{"t":10.749,"v":39.0143},{"t":10.769,"v":39.0374},
{"t":10.790,"v":39.1041},{"t":10.841,"v":39.1260},{"t":10.882,"v":39.1078},{"t":10.918,"v":39.0944},{"t":10.949,"v":39.1150},{"t":10.985,"v":39.0896},{"t":11.021,"v":39.1308},
{"t":11.036,"v":39.0617},{"t":11.072,"v":39.0374},{"t":11.113,"v":39.0301},{"t":11.138,"v":39.0422},{"t":11.190,"v":39.0295},{"t":11.221,"v":39.0519},{"t":11.256,"v":39.0301},
{"t":11.292,"v":39.1005},{"t":11.328,"v":39.1150},{"t":11.369,"v":39.1029},{"t":11.395,"v":39.1163},{"t":11.446,"v":39.1005},{"t":11.482,"v":39.1102},{"t":11.513,"v":39.1328},
{"t":11.533,"v":39.0556},{"t":11.564,"v":39.0374},{"t":11.610,"v":39.0495},{"t":11.651,"v":39.0277},{"t":11.692,"v":39.0483},{"t":11.733,"v":39.0301},
{"t":11.769,"v":39.0981},{"t":11.815,"v":39.1102},{"t":11.867,"v":39.1017},{"t":11.908,"v":39.0956},{"t":11.959,"v":39.0993},{"t":11.990,"v":39.0920},{"t":12.021,"v":39.1290},
{"t":12.036,"v":39.0592},{"t":12.077,"v":39.0374},{"t":12.138,"v":39.0507},{"t":12.190,"v":39.0252},{"t":12.215,"v":39.0422},{"t":12.251,"v":39.0119},
{"t":12.292,"v":39.0859},{"t":12.333,"v":39.1163},{"t":12.379,"v":39.0823},{"t":12.421,"v":39.0932},{"t":12.446,"v":39.1053},{"t":12.497,"v":39.0786},{"t":12.513,"v":39.1193},
{"t":12.523,"v":39.0519},{"t":12.564,"v":39.0398},{"t":12.600,"v":39.0580},{"t":12.662,"v":39.0325},{"t":12.703,"v":39.0459},{"t":12.744,"v":39.0240},
{"t":12.790,"v":39.0908},{"t":12.831,"v":39.1005},{"t":12.856,"v":39.1066},{"t":12.882,"v":39.1150},{"t":12.918,"v":39.0859},{"t":12.959,"v":39.0981},{"t":13.000,"v":39.0811},{"t":13.015,"v":39.1138},
{"t":13.036,"v":39.0495},{"t":13.062,"v":39.0374},{"t":13.138,"v":39.0495},{"t":13.190,"v":39.0313},{"t":13.215,"v":39.0131},{"t":13.241,"v":39.0155},
{"t":13.292,"v":39.0981},{"t":13.333,"v":39.1114},{"t":13.369,"v":39.0993},{"t":13.436,"v":39.1211},{"t":13.482,"v":39.1053},{"t":13.513,"v":39.1296},
{"t":13.549,"v":39.0495},{"t":13.574,"v":39.0386},{"t":13.615,"v":39.0556},{"t":13.667,"v":39.0313},{"t":13.728,"v":39.0495},{"t":13.754,"v":39.0095},
{"t":13.790,"v":39.0859},{"t":13.831,"v":39.1066},{"t":13.856,"v":39.1199},{"t":13.897,"v":39.1102},{"t":13.933,"v":39.1005},{"t":13.985,"v":39.1041},{"t":14.010,"v":39.1199},
{"t":14.036,"v":39.0592},{"t":14.087,"v":39.0374},{"t":14.164,"v":39.0592},{"t":14.215,"v":39.0252},{"t":14.251,"v":39.0167},
{"t":14.292,"v":39.0956},{"t":14.344,"v":39.1175},{"t":14.379,"v":39.1078},{"t":14.446,"v":39.1005},{"t":14.482,"v":39.0908},{"t":14.513,"v":39.1205},
{"t":14.533,"v":39.0677},{"t":14.574,"v":39.0434},{"t":14.610,"v":39.0337},{"t":14.651,"v":39.0556},{"t":14.703,"v":39.0398},{"t":14.744,"v":39.0689},
{"t":14.785,"v":39.0981},{"t":14.821,"v":39.1175},{"t":14.862,"v":39.1029},{"t":14.897,"v":39.0908},{"t":14.938,"v":39.1029},{"t":14.979,"v":39.1102},{"t":15.021,"v":39.1302},
{"t":15.046,"v":39.0519},{"t":15.077,"v":39.0325},{"t":15.123,"v":39.0811},{"t":15.164,"v":39.0374},{"t":15.200,"v":39.0519},{"t":15.231,"v":39.0289},
{"t":15.282,"v":39.0908},{"t":15.328,"v":39.1066},{"t":15.369,"v":39.0956},{"t":15.405,"v":39.1066},{"t":15.436,"v":39.1005},{"t":15.477,"v":39.0981},{"t":15.513,"v":39.1260},
{"t":15.538,"v":39.0507},{"t":15.574,"v":39.0556},{"t":15.626,"v":39.0252},{"t":15.677,"v":39.0653},{"t":15.713,"v":39.0374},{"t":15.744,"v":39.0265},
{"t":15.779,"v":39.0920},{"t":15.831,"v":39.1175},{"t":15.882,"v":39.1041},{"t":15.949,"v":39.1150},{"t":15.985,"v":39.0981},{"t":16.000,"v":39.1163},
{"t":16.021,"v":39.0714},{"t":16.072,"v":39.0495},{"t":16.098,"v":39.0617},{"t":16.149,"v":39.0434},{"t":16.201,"v":39.0313},{"t":16.253,"v":39.0265},
{"t":16.294,"v":39.0859},{"t":16.320,"v":39.0993},{"t":16.381,"v":39.0859},{"t":16.433,"v":39.1053},{"t":16.485,"v":39.0956},{"t":16.526,"v":39.1266},
{"t":16.546,"v":39.0617},{"t":16.588,"v":39.0434},{"t":16.613,"v":39.0301},{"t":16.691,"v":39.0471},{"t":16.768,"v":39.0216},
{"t":16.794,"v":39.0859},{"t":16.830,"v":39.1181},{"t":16.871,"v":39.0981},{"t":16.897,"v":39.0847},{"t":16.923,"v":39.0968},{"t":17.000,"v":39.1126},{"t":17.026,"v":39.1314},
{"t":17.052,"v":39.0641},{"t":17.077,"v":39.0374},{"t":17.144,"v":39.0216},{"t":17.196,"v":39.0556},{"t":17.232,"v":39.0313},{"t":17.268,"v":39.0434},
{"t":17.299,"v":39.0859},{"t":17.335,"v":39.1120},{"t":17.371,"v":39.0908},{"t":17.412,"v":39.1053},{"t":17.464,"v":39.1005},{"t":17.526,"v":39.1363},
{"t":17.541,"v":39.0617},{"t":17.593,"v":39.0313},{"t":17.619,"v":39.0519},{"t":17.670,"v":39.0289},{"t":17.711,"v":39.0495},{"t":17.758,"v":39.0210},
{"t":17.799,"v":39.0908},{"t":17.825,"v":39.1053},{"t":17.851,"v":39.0981},{"t":17.902,"v":39.1066},{"t":17.943,"v":39.1272},{"t":17.990,"v":39.1078},{"t":18.031,"v":39.1320},
{"t":18.046,"v":39.0677},{"t":18.067,"v":39.0495},{"t":18.119,"v":39.0641},{"t":18.186,"v":39.0374},{"t":18.237,"v":39.0532},{"t":18.263,"v":39.0228},
{"t":18.314,"v":39.0908},{"t":18.340,"v":39.1132},{"t":18.392,"v":39.1029},{"t":18.443,"v":39.1066},{"t":18.469,"v":39.0811},{"t":18.500,"v":39.1102},{"t":18.531,"v":39.1417},
{"t":18.546,"v":39.0544},{"t":18.582,"v":39.0422},{"t":18.624,"v":39.0495},{"t":18.649,"v":39.0265},{"t":18.727,"v":39.0434},{"t":18.753,"v":39.0192},
{"t":18.804,"v":39.0859},{"t":18.830,"v":39.0968},{"t":18.881,"v":39.0908},{"t":18.918,"v":39.1017},{"t":18.959,"v":39.0835},{"t":19.005,"v":39.0981},{"t":19.036,"v":39.1235},
{"t":19.052,"v":39.0641},{"t":19.088,"v":39.0374},{"t":19.113,"v":39.0252},{"t":19.165,"v":39.0507},{"t":19.216,"v":39.0240},{"t":19.268,"v":39.0398},
{"t":19.309,"v":39.0908},{"t":19.345,"v":39.1138},{"t":19.371,"v":39.0981},{"t":19.423,"v":39.0859},{"t":19.474,"v":39.0981},{"t":19.526,"v":39.1320},
{"t":19.552,"v":39.0556},{"t":19.577,"v":39.0422},{"t":19.655,"v":39.0155},{"t":19.706,"v":39.0374},{"t":19.758,"v":39.0180},{"t":19.773,"v":39.0386},
{"t":19.809,"v":39.0956},{"t":19.845,"v":39.1187},{"t":19.887,"v":39.1029},{"t":19.902,"v":39.1284},{"t":19.928,"v":39.0883},{"t":19.979,"v":39.1017},{"t":20.031,"v":39.1339},
{"t":20.052,"v":39.0556},{"t":20.077,"v":39.0374},{"t":20.119,"v":39.0507},{"t":20.144,"v":39.0301},{"t":20.180,"v":39.0629},{"t":20.237,"v":39.0434},{"t":20.268,"v":39.0289},
{"t":20.299,"v":39.0908},{"t":20.335,"v":39.1138},{"t":20.387,"v":39.0981},{"t":20.454,"v":39.1187},{"t":20.505,"v":39.0981},{"t":20.526,"v":39.1260},
{"t":20.546,"v":39.0519},{"t":20.557,"v":39.0301},{"t":20.608,"v":39.0556},{"t":20.670,"v":39.0204},{"t":20.737,"v":39.0738},{"t":20.773,"v":39.0325},
{"t":20.814,"v":39.0908},{"t":20.840,"v":39.1066},{"t":20.892,"v":39.0920},{"t":20.943,"v":39.1041},{"t":20.969,"v":39.1078},{"t":21.021,"v":39.1351},
{"t":21.046,"v":39.0495},{"t":21.072,"v":39.0422},{"t":21.124,"v":39.0604},{"t":21.175,"v":39.0313},{"t":21.227,"v":39.0459},{"t":21.268,"v":39.0240},
{"t":21.304,"v":39.0956},{"t":21.345,"v":39.1138},{"t":21.392,"v":39.0981},{"t":21.433,"v":39.1126},{"t":21.485,"v":39.0993},{"t":21.521,"v":39.1381},
{"t":21.546,"v":39.0677},{"t":21.588,"v":39.0580},{"t":21.613,"v":39.0161},{"t":21.665,"v":39.0434},{"t":21.732,"v":39.0653},{"t":21.758,"v":39.0350},
{"t":21.794,"v":39.0859},{"t":21.835,"v":39.1102},{"t":21.887,"v":39.0981},{"t":21.897,"v":39.0811},{"t":21.974,"v":39.1066},{"t":22.026,"v":39.1472},
{"t":22.041,"v":39.0799},{"t":22.077,"v":39.0495},{"t":22.129,"v":39.0252},{"t":22.206,"v":39.0422},{"t":22.247,"v":39.0283},
{"t":22.284,"v":39.0956},{"t":22.335,"v":39.1223},{"t":22.361,"v":39.1041},{"t":22.387,"v":39.0883},{"t":22.474,"v":39.0956},{"t":22.526,"v":39.1363},
{"t":22.541,"v":39.0701},{"t":22.567,"v":39.0447},{"t":22.660,"v":39.0422},{"t":22.696,"v":39.0665},{"t":22.763,"v":39.0519},
{"t":22.799,"v":39.1005},{"t":22.840,"v":39.1235},{"t":22.876,"v":39.1126},{"t":22.938,"v":39.1187},{"t":22.979,"v":39.1102},{"t":23.021,"v":39.1496},
{"t":23.041,"v":39.0641},{"t":23.072,"v":39.0495},{"t":23.134,"v":39.0592},{"t":23.175,"v":39.0447},{"t":23.247,"v":39.0762},{"t":23.258,"v":39.0434},
{"t":23.289,"v":39.0956},{"t":23.351,"v":39.1223},{"t":23.392,"v":39.1066},{"t":23.443,"v":39.1017},{"t":23.495,"v":39.1029},{"t":23.526,"v":39.1478},
{"t":23.546,"v":39.0689},{"t":23.588,"v":39.0495},{"t":23.649,"v":39.0568},{"t":23.701,"v":39.0422},{"t":23.742,"v":39.0532},{"t":23.778,"v":39.0677},
{"t":23.814,"v":39.1102},{"t":23.830,"v":39.1357},{"t":23.881,"v":39.1223},{"t":23.933,"v":39.1102},{"t":23.969,"v":39.1187},{"t":24.000,"v":39.1138}
],
"p3": [
{"t":0.000,"v":37.250},{"t":0.010,"v":37.300},{"t":0.020,"v":37.335},{"t":0.130,"v":37.400},{"t":0.242,"v":37.4615},{"t":0.250,"v":37.374},{"t":0.380,"v":37.300},{"t":0.496,"v":37.236},
{"t":0.505,"v":37.341},{"t":0.620,"v":37.405},{"t":0.735,"v":37.466},{"t":0.745,"v":37.379},{"t":0.870,"v":37.310},{"t":0.996,"v":37.242},
{"t":1.005,"v":37.352},{"t":1.120,"v":37.410},{"t":1.235,"v":37.466},{"t":1.245,"v":37.385},{"t":1.370,"v":37.310},{"t":1.496,"v":37.242},
{"t":1.505,"v":37.352},{"t":1.620,"v":37.405},{"t":1.735,"v":37.459},{"t":1.745,"v":37.357},{"t":1.870,"v":37.290},{"t":1.996,"v":37.220},
{"t":2.005,"v":37.330},{"t":2.120,"v":37.385},{"t":2.242,"v":37.442},{"t":2.250,"v":37.368},{"t":2.370,"v":37.275},{"t":2.496,"v":37.195},
{"t":2.505,"v":37.297},{"t":2.620,"v":37.370},{"t":2.742,"v":37.426},{"t":2.750,"v":37.341},{"t":2.870,"v":37.260},{"t":2.996,"v":37.190},
{"t":3.005,"v":37.270},{"t":3.120,"v":37.340},{"t":3.235,"v":37.393},{"t":3.245,"v":37.302},{"t":3.370,"v":37.240},{"t":3.496,"v":37.177},
{"t":3.505,"v":37.291},{"t":3.620,"v":37.360},{"t":3.727,"v":37.412},{"t":3.735,"v":37.330},{"t":3.860,"v":37.245},{"t":4.000,"v":37.165},
{"t":4.005,"v":37.277},{"t":4.120,"v":37.340},{"t":4.235,"v":37.404},{"t":4.245,"v":37.297},{"t":4.370,"v":37.220},{"t":4.496,"v":37.148},
{"t":4.505,"v":37.250},{"t":4.520,"v":37.230},{"t":4.620,"v":37.320},{"t":4.735,"v":37.393},{"t":4.745,"v":37.286},{"t":4.870,"v":37.220},{"t":4.996,"v":37.159},
{"t":5.005,"v":37.270},{"t":5.120,"v":37.340},{"t":5.235,"v":37.396},{"t":5.245,"v":37.291},{"t":5.370,"v":37.220},{"t":5.496,"v":37.154},
{"t":5.505,"v":37.270},{"t":5.620,"v":37.350},{"t":5.735,"v":37.407},{"t":5.745,"v":37.313},{"t":5.870,"v":37.235},{"t":5.996,"v":37.168},
{"t":6.005,"v":37.280},{"t":6.120,"v":37.350},{"t":6.235,"v":37.409},{"t":6.245,"v":37.308},{"t":6.370,"v":37.235},{"t":6.496,"v":37.165},
{"t":6.505,"v":37.280},{"t":6.620,"v":37.360},{"t":6.735,"v":37.415},{"t":6.745,"v":37.341},{"t":6.870,"v":37.250},{"t":6.996,"v":37.176},
{"t":7.005,"v":37.290},{"t":7.120,"v":37.360},{"t":7.235,"v":37.412},{"t":7.245,"v":37.330},{"t":7.370,"v":37.270},{"t":7.490,"v":37.223},
{"t":7.495,"v":37.300},{"t":7.550,"v":37.330},{"t":7.610,"v":37.374},{"t":7.650,"v":37.355},{"t":7.700,"v":37.370},{"t":7.740,"v":37.352},{"t":7.760,"v":37.231},{"t":7.880,"v":37.190},{"t":8.000,"v":37.154},
{"t":8.005,"v":37.266},{"t":8.050,"v":37.235},{"t":8.100,"v":37.220},{"t":8.150,"v":37.205},{"t":8.210,"v":37.187},{"t":8.230,"v":37.049},{"t":8.360,"v":37.010},{"t":8.500,"v":36.984},
{"t":8.510,"v":37.121},{"t":8.560,"v":37.115},{"t":8.610,"v":37.125},{"t":8.660,"v":37.112},{"t":8.730,"v":37.118},{"t":8.745,"v":36.984},{"t":8.870,"v":36.920},{"t":8.995,"v":36.865},
{"t":9.005,"v":37.022},{"t":9.120,"v":37.060},{"t":9.230,"v":37.093},{"t":9.240,"v":36.956},{"t":9.370,"v":36.870},{"t":9.500,"v":36.791},
{"t":9.505,"v":36.956},{"t":9.620,"v":37.030},{"t":9.735,"v":37.110},{"t":9.745,"v":36.984},{"t":9.870,"v":36.870},{"t":9.996,"v":36.775},
{"t":10.005,"v":36.945},{"t":10.120,"v":37.020},{"t":10.230,"v":37.096},{"t":10.240,"v":36.956},{"t":10.370,"v":36.860},{"t":10.500,"v":36.764},
{"t":10.505,"v":36.934},{"t":10.620,"v":37.020},{"t":10.730,"v":37.113},{"t":10.740,"v":37.011},{"t":10.870,"v":36.900},{"t":11.000,"v":36.802},
{"t":11.005,"v":36.951},{"t":11.120,"v":37.040},{"t":11.240,"v":37.127},{"t":11.250,"v":37.022},{"t":11.370,"v":36.930},{"t":11.500,"v":36.838},
{"t":11.505,"v":36.997},{"t":11.620,"v":37.070},{"t":11.710,"v":37.143},{"t":11.720,"v":37.022},{"t":11.860,"v":36.930},{"t":12.000,"v":36.835},
{"t":12.010,"v":36.984},{"t":12.120,"v":37.060},{"t":12.240,"v":37.138},{"t":12.250,"v":37.038},{"t":12.370,"v":36.950},{"t":12.500,"v":36.884},
{"t":12.510,"v":37.038},{"t":12.620,"v":37.110},{"t":12.730,"v":37.181},{"t":12.740,"v":37.082},{"t":12.870,"v":36.990},{"t":13.000,"v":36.914},
{"t":13.010,"v":37.066},{"t":13.120,"v":37.130},{"t":13.220,"v":37.191},{"t":13.230,"v":37.055},{"t":13.370,"v":36.980},{"t":13.500,"v":36.914},
{"t":13.510,"v":37.066},{"t":13.620,"v":37.120},{"t":13.740,"v":37.170},{"t":13.750,"v":37.044},{"t":13.870,"v":36.970},{"t":14.000,"v":36.909},
{"t":14.010,"v":37.055},{"t":14.120,"v":37.110},{"t":14.240,"v":37.168},{"t":14.250,"v":37.049},{"t":14.370,"v":36.970},{"t":14.500,"v":36.903},
{"t":14.510,"v":37.049},{"t":14.620,"v":37.090},{"t":14.740,"v":37.139},{"t":14.750,"v":37.016},{"t":14.870,"v":36.960},{"t":15.000,"v":36.917},
{"t":15.010,"v":37.060},{"t":15.120,"v":37.120},{"t":15.250,"v":37.179},{"t":15.260,"v":37.060},{"t":15.370,"v":36.990},{"t":15.500,"v":36.934},
{"t":15.510,"v":37.088},{"t":15.620,"v":37.140},{"t":15.740,"v":37.193},{"t":15.750,"v":37.049},{"t":15.870,"v":36.980},{"t":16.000,"v":36.929},
{"t":16.010,"v":37.082},{"t":16.120,"v":37.150},{"t":16.230,"v":37.205},{"t":16.240,"v":37.082},{"t":16.370,"v":37.000},{"t":16.500,"v":36.942},
{"t":16.510,"v":37.088},{"t":16.620,"v":37.140},{"t":16.740,"v":37.195},{"t":16.750,"v":37.082},{"t":16.870,"v":36.990},{"t":17.000,"v":36.925},
{"t":17.010,"v":37.077},{"t":17.120,"v":37.140},{"t":17.240,"v":37.191},{"t":17.250,"v":37.077},{"t":17.370,"v":36.980},{"t":17.500,"v":36.906},
{"t":17.510,"v":37.066},{"t":17.620,"v":37.140},{"t":17.740,"v":37.202},{"t":17.750,"v":37.077},{"t":17.870,"v":36.980},{"t":18.000,"v":36.898},
{"t":18.010,"v":37.049},{"t":18.120,"v":37.130},{"t":18.230,"v":37.202},{"t":18.240,"v":37.077},{"t":18.370,"v":36.980},{"t":18.500,"v":36.901},
{"t":18.510,"v":37.060},{"t":18.620,"v":37.130},{"t":18.740,"v":37.198},{"t":18.750,"v":37.060},{"t":18.870,"v":36.960},{"t":19.000,"v":36.865},
{"t":19.010,"v":37.022},{"t":19.120,"v":37.100},{"t":19.230,"v":37.172},{"t":19.240,"v":37.071},{"t":19.370,"v":36.960},{"t":19.500,"v":36.868},
{"t":19.510,"v":37.027},{"t":19.620,"v":37.100},{"t":19.730,"v":37.179},{"t":19.740,"v":37.060},{"t":19.870,"v":36.960},{"t":20.000,"v":36.874},
{"t":20.010,"v":37.027},{"t":20.120,"v":37.100},{"t":20.240,"v":37.179},{"t":20.250,"v":37.055},{"t":20.370,"v":36.970},{"t":20.500,"v":36.896},
{"t":20.510,"v":37.060},{"t":20.620,"v":37.140},{"t":20.740,"v":37.207},{"t":20.750,"v":37.044},{"t":20.870,"v":36.960},{"t":21.000,"v":36.882},
{"t":21.010,"v":37.033},{"t":21.120,"v":37.110},{"t":21.240,"v":37.192},{"t":21.250,"v":37.055},{"t":21.370,"v":36.950},{"t":21.500,"v":36.860},
{"t":21.510,"v":37.016},{"t":21.620,"v":37.100},{"t":21.740,"v":37.177},{"t":21.750,"v":37.044},{"t":21.870,"v":36.940},{"t":22.000,"v":36.841},
{"t":22.010,"v":37.005},{"t":22.120,"v":37.090},{"t":22.240,"v":37.179},{"t":22.250,"v":37.044},{"t":22.370,"v":36.950},{"t":22.500,"v":36.868},
{"t":22.510,"v":37.016},{"t":22.620,"v":37.060},{"t":22.740,"v":37.097},{"t":22.750,"v":36.956},{"t":22.870,"v":36.870},{"t":23.000,"v":36.786},
{"t":23.010,"v":36.951},{"t":23.120,"v":37.050},{"t":23.240,"v":37.133},{"t":23.250,"v":36.984},{"t":23.370,"v":36.880},{"t":23.500,"v":36.798},
{"t":23.510,"v":36.976},{"t":23.620,"v":37.060},{"t":23.730,"v":37.153},{"t":23.740,"v":37.022},{"t":23.870,"v":36.910},{"t":24.000,"v":36.819}
],
"p4": [
{"t":0.00,"v":33.80},{"t":0.04,"v":33.94},{"t":0.08,"v":33.82},{"t":0.12,"v":33.95},{"t":0.17,"v":33.84},{"t":0.21,"v":33.93},{"t":0.26,"v":33.83},{"t":0.30,"v":33.92},{"t":0.35,"v":33.84},{"t":0.40,"v":33.91},{"t":0.45,"v":33.85},{"t":0.50,"v":33.91},{"t":0.56,"v":33.86},{"t":0.62,"v":33.90},{"t":0.68,"v":33.85},{"t":0.74,"v":33.90},{"t":0.80,"v":33.85},{"t":0.87,"v":33.89},{"t":0.93,"v":33.84},{"t":1.00,"v":33.89},{"t":1.07,"v":33.83},{"t":1.13,"v":33.88},{"t":1.20,"v":33.82},{"t":1.27,"v":33.87},{"t":1.33,"v":33.82},{"t":1.40,"v":33.86},{"t":1.47,"v":33.82},{"t":1.55,"v":33.85},{"t":1.62,"v":33.82},{"t":1.70,"v":33.85},{"t":1.80,"v":33.82},{"t":1.90,"v":33.84},{"t":2.00,"v":33.81},{"t":2.10,"v":33.83},{"t":2.25,"v":33.81},{"t":2.40,"v":33.83},{"t":2.55,"v":33.81},{"t":2.70,"v":33.82},{"t":2.85,"v":33.80},{"t":3.00,"v":33.81},{"t":3.15,"v":33.80},{"t":3.30,"v":33.78},{"t":3.45,"v":33.80},{"t":3.55,"v":33.75},{"t":3.62,"v":33.82},{"t":3.75,"v":33.78},{"t":3.85,"v":33.74},{"t":4.00,"v":33.68},{"t":4.20,"v":33.86},{"t":4.35,"v":33.70},{"t":4.53,"v":33.55},{"t":4.75,"v":33.71},{"t":5.02,"v":33.45},{"t":5.24,"v":33.67},{"t":5.48,"v":33.51},{"t":5.76,"v":33.85},{"t":5.95,"v":33.73},{"t":6.13,"v":33.89},{"t":6.33,"v":33.80},{"t":6.56,"v":33.77},{"t":6.75,"v":33.83},{"t":7.02,"v":33.89},{"t":7.20,"v":33.91},{"t":7.48,"v":33.92},{"t":7.59,"v":33.96},{"t":7.68,"v":33.90},{"t":7.82,"v":33.66},{"t":8.00,"v":33.06},{"t":8.25,"v":32.43},{"t":8.37,"v":31.83},{"t":8.53,"v":31.24},{"t":8.71,"v":30.65},{"t":8.83,"v":30.06},{"t":9.02,"v":29.52},{"t":9.25,"v":29.10},{"t":9.36,"v":28.78},{"t":9.51,"v":28.49},{"t":9.60,"v":28.43},{"t":9.72,"v":28.44},{"t":10.00,"v":28.18},{"t":10.25,"v":28.41},{"t":10.49,"v":28.24},{"t":10.75,"v":28.53},{"t":10.98,"v":28.54},{"t":11.25,"v":28.94},{"t":11.47,"v":28.95},{"t":11.75,"v":29.37},{"t":11.98,"v":29.45},{"t":12.24,"v":29.82},{"t":12.52,"v":29.71},{"t":12.73,"v":29.91},{"t":13.01,"v":29.76},{"t":13.24,"v":30.02},{"t":13.50,"v":29.92},{"t":13.73,"v":30.09},{"t":13.99,"v":29.89},{"t":14.24,"v":30.01},{"t":14.52,"v":29.83},{"t":14.75,"v":29.98},{"t":14.98,"v":29.89},{"t":15.24,"v":30.11},{"t":15.50,"v":29.99},{"t":15.75,"v":30.21},{"t":16.01,"v":30.04},{"t":16.24,"v":30.20},{"t":16.51,"v":29.95},{"t":16.73,"v":30.03},{"t":17.04,"v":29.67},{"t":17.24,"v":29.66},{"t":17.54,"v":29.30},{"t":17.74,"v":29.35},{"t":18.05,"v":28.99},{"t":18.23,"v":29.05},{"t":18.54,"v":28.73},{"t":18.77,"v":28.88},{"t":19.03,"v":28.66},{"t":19.23,"v":28.81},{"t":19.51,"v":28.58},{"t":19.74,"v":28.78},{"t":20.02,"v":28.60},{"t":20.26,"v":28.82},{"t":20.53,"v":28.64},{"t":20.74,"v":28.79},{"t":21.00,"v":28.52},{"t":21.22,"v":28.62},{"t":21.52,"v":28.34},{"t":21.74,"v":28.51},{"t":22.01,"v":28.34},{"t":22.23,"v":28.54},{"t":22.51,"v":28.34},{"t":22.73,"v":28.47},{"t":23.05,"v":27.94},{"t":23.24,"v":27.99},{"t":23.52,"v":27.69},{"t":23.75,"v":27.89},{"t":24.00,"v":27.70}
]
},
"vconcat": [
{
"width": 2743, "height": 468,
"data": {"name": "p1"},
"mark": {"type": "line", "color": "#000000", "strokeWidth": 2.8, "clip": true},
"encoding": {
"x": {"field": "t", "type": "quantitative", "scale": {"domain": [0, 24], "nice": false, "zero": false},
"axis": {"values": [0,0.25,0.5,0.75,1,1.25,1.5,1.75,2,2.25,2.5,2.75,3,3.25,3.5,3.75,4,4.25,4.5,4.75,5,5.25,5.5,5.75,6,6.25,6.5,6.75,7,7.25,7.5,7.75,8,8.25,8.5,8.75,9,9.25,9.5,9.75,10,10.25,10.5,10.75,11,11.25,11.5,11.75,12,12.25,12.5,12.75,13,13.25,13.5,13.75,14,14.25,14.5,14.75,15,15.25,15.5,15.75,16,16.25,16.5,16.75,17,17.25,17.5,17.75,18,18.25,18.5,18.75,19,19.25,19.5,19.75,20,20.25,20.5,20.75,21,21.25,21.5,21.75,22,22.25,22.5,22.75,23,23.25,23.5,23.75,24], "labels": false, "title": null,
"tickSize": {"condition": {"test": "datum.value % 1 === 0", "value": 19}, "value": 11},
"tickWidth": {"condition": {"test": "datum.value % 1 === 0", "value": 3}, "value": 2},
"gridOpacity": {"condition": {"test": "datum.value % 1 === 0", "value": 1}, "value": 0}}},
"y": {"field": "v", "type": "quantitative", "scale": {"domain": [1.4657, 1.5006], "nice": false, "zero": false},
"axis": {"values": [1.47, 1.48, 1.49, 1.50], "format": ".2f", "title": "Trans. Power [W]", "titlePadding": 0}}
}
},
{
"width": 2743, "height": 468,
"data": {"name": "p2"},
"mark": {"type": "line", "color": "#d62728", "strokeWidth": 3.2, "clip": true},
"encoding": {
"x": {"field": "t", "type": "quantitative", "scale": {"domain": [0, 24], "nice": false, "zero": false},
"axis": {"values": [0,0.25,0.5,0.75,1,1.25,1.5,1.75,2,2.25,2.5,2.75,3,3.25,3.5,3.75,4,4.25,4.5,4.75,5,5.25,5.5,5.75,6,6.25,6.5,6.75,7,7.25,7.5,7.75,8,8.25,8.5,8.75,9,9.25,9.5,9.75,10,10.25,10.5,10.75,11,11.25,11.5,11.75,12,12.25,12.5,12.75,13,13.25,13.5,13.75,14,14.25,14.5,14.75,15,15.25,15.5,15.75,16,16.25,16.5,16.75,17,17.25,17.5,17.75,18,18.25,18.5,18.75,19,19.25,19.5,19.75,20,20.25,20.5,20.75,21,21.25,21.5,21.75,22,22.25,22.5,22.75,23,23.25,23.5,23.75,24], "labels": false, "title": null,
"tickSize": {"condition": {"test": "datum.value % 1 === 0", "value": 19}, "value": 11},
"tickWidth": {"condition": {"test": "datum.value % 1 === 0", "value": 3}, "value": 2},
"gridOpacity": {"condition": {"test": "datum.value % 1 === 0", "value": 1}, "value": 0}}},
"y": {"field": "v", "type": "quantitative", "scale": {"domain": [38.9866, 39.1573], "nice": false, "zero": false},
"axis": {"values": [39.00, 39.05, 39.10, 39.15], "format": ".2f", "title": "Trans. Temp [°C]", "titlePadding": 0}}
}
},
{
"width": 2743, "height": 468,
"data": {"name": "p3"},
"mark": {"type": "line", "color": "#ff7f0e", "strokeWidth": 2.8, "clip": true},
"encoding": {
"x": {"field": "t", "type": "quantitative", "scale": {"domain": [0, 24], "nice": false, "zero": false},
"axis": {"values": [0,0.25,0.5,0.75,1,1.25,1.5,1.75,2,2.25,2.5,2.75,3,3.25,3.5,3.75,4,4.25,4.5,4.75,5,5.25,5.5,5.75,6,6.25,6.5,6.75,7,7.25,7.5,7.75,8,8.25,8.5,8.75,9,9.25,9.5,9.75,10,10.25,10.5,10.75,11,11.25,11.5,11.75,12,12.25,12.5,12.75,13,13.25,13.5,13.75,14,14.25,14.5,14.75,15,15.25,15.5,15.75,16,16.25,16.5,16.75,17,17.25,17.5,17.75,18,18.25,18.5,18.75,19,19.25,19.5,19.75,20,20.25,20.5,20.75,21,21.25,21.5,21.75,22,22.25,22.5,22.75,23,23.25,23.5,23.75,24], "labels": false, "title": null,
"tickSize": {"condition": {"test": "datum.value % 1 === 0", "value": 19}, "value": 11},
"tickWidth": {"condition": {"test": "datum.value % 1 === 0", "value": 3}, "value": 2},
"gridOpacity": {"condition": {"test": "datum.value % 1 === 0", "value": 1}, "value": 0}}},
"y": {"field": "v", "type": "quantitative", "scale": {"domain": [36.728, 37.499], "nice": false, "zero": false},
"axis": {"values": [36.8, 37.0, 37.2, 37.4], "format": ".1f", "title": "Rec. Temp [°C]", "titlePadding": 0}}
}
},
{
"width": 2743, "height": 468,
"data": {"name": "p4"},
"mark": {"type": "line", "color": "#1f77b4", "strokeWidth": 2.8, "clip": true},
"encoding": {
"x": {"field": "t", "type": "quantitative", "scale": {"domain": [0, 24], "nice": false, "zero": false},
"axis": {"values": [0,0.25,0.5,0.75,1,1.25,1.5,1.75,2,2.25,2.5,2.75,3,3.25,3.5,3.75,4,4.25,4.5,4.75,5,5.25,5.5,5.75,6,6.25,6.5,6.75,7,7.25,7.5,7.75,8,8.25,8.5,8.75,9,9.25,9.5,9.75,10,10.25,10.5,10.75,11,11.25,11.5,11.75,12,12.25,12.5,12.75,13,13.25,13.5,13.75,14,14.25,14.5,14.75,15,15.25,15.5,15.75,16,16.25,16.5,16.75,17,17.25,17.5,17.75,18,18.25,18.5,18.75,19,19.25,19.5,19.75,20,20.25,20.5,20.75,21,21.25,21.5,21.75,22,22.25,22.5,22.75,23,23.25,23.5,23.75,24], "title": "Time [UTC]", "titlePadding": 4,
"labelOverlap": false, "labelFlush": false,
"labelExpr": "datum.value % 1 !== 0 ? '' : (datum.value === 24 ? '00' : (datum.value < 10 ? '0' + datum.value : '' + datum.value))",
"tickSize": {"condition": {"test": "datum.value % 1 === 0", "value": 19}, "value": 11},
"tickWidth": {"condition": {"test": "datum.value % 1 === 0", "value": 3}, "value": 2},
"gridOpacity": {"condition": {"test": "datum.value % 1 === 0", "value": 1}, "value": 0}}},
"y": {"field": "v", "type": "quantitative", "scale": {"domain": [27.365, 34.286], "nice": false, "zero": false},
"axis": {"values": [28, 30, 32, 34], "format": "d", "title": "PC Temp [°C]", "titlePadding": 0}}
}
}
]
}
